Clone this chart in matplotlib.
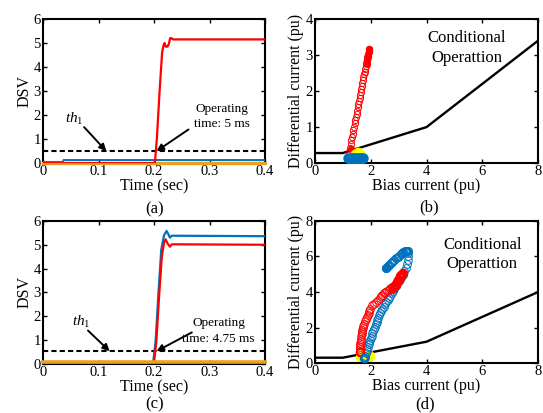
import numpy as np
import matplotlib
matplotlib.use("Agg")
import matplotlib.pyplot as plt

plt.rcParams['font.family'] = ['Liberation Serif', 'DejaVu Serif']
plt.rcParams['mathtext.fontset'] = 'custom'
plt.rcParams['mathtext.rm'] = 'Liberation Serif'
plt.rcParams['mathtext.it'] = 'Liberation Serif:italic'

RED = '#FF0000'
BLUE = '#0072BD'
ORANGE = '#EDA020'
YELLOW = '#FFFF00'

# ---- (a) DSV, case 1
a_red_t = [0, 0.2015, 0.205, 0.21, 0.2145, 0.217, 0.219, 0.221, 0.224, 0.2265, 0.229, 0.2315, 0.234, 0.4]
a_red_v = [0, 0, 1.0, 3.0, 4.6, 4.9, 5.0, 4.85, 4.85, 4.95, 5.2, 5.2, 5.15, 5.15]
a_blue_t = [0, 0.036, 0.037, 0.4]
a_blue_v = [0.05, 0.05, 0.13, 0.13]
a_orange_t = [0, 0.4]
a_orange_v = [0.02, 0.02]
a_th1 = 0.5

# ---- (c) DSV, case 2
c_blue_t = [0, 0.1985, 0.203, 0.208, 0.213, 0.218, 0.2226, 0.2256, 0.2286, 0.232, 0.236, 0.4]
c_blue_v = [0.07, 0.07, 1.0, 3.0, 4.8, 5.4, 5.58, 5.45, 5.3, 5.38, 5.38, 5.36]
c_red_t = [0, 0.2, 0.204, 0.209, 0.214, 0.218, 0.2208, 0.2245, 0.2286, 0.232, 0.236, 0.4]
c_red_v = [0.07, 0.07, 0.9, 2.8, 4.5, 5.1, 5.23, 5.05, 4.92, 5.02, 5.02, 5.0]
c_orange_t = [0, 0.4]
c_orange_v = [0.07, 0.07]
c_th1 = 0.53

# ---- (b) trajectory, case 1
b_char_x = [0, 1, 4, 8]
b_char_y = [0.28, 0.28, 1.0, 3.4]
b_red_x = [1.22, 1.25, 1.28, 1.30, 1.33, 1.35, 1.38, 1.40, 1.42, 1.45, 1.47, 1.49, 1.52, 1.54,
           1.56, 1.58, 1.60, 1.62, 1.64, 1.66, 1.68, 1.70, 1.72, 1.74, 1.76, 1.78, 1.80, 1.82,
           1.84, 1.86, 1.88, 1.90, 1.92, 1.94]
b_red_y = [0.30, 0.42, 0.53, 0.63, 0.73, 0.82, 0.92, 1.01, 1.10, 1.19, 1.28, 1.37, 1.46, 1.55,
           1.64, 1.72, 1.81, 1.89, 1.98, 2.06, 2.14, 2.22, 2.30, 2.38, 2.46, 2.54, 2.62, 2.70,
           2.78, 2.86, 2.94, 3.02, 3.10, 3.18]
b_redf_x = [1.28, 1.87, 1.88, 1.90, 1.93, 1.95]
b_redf_y = [0.38, 2.75, 2.85, 2.95, 3.08, 3.18]
b_yel_x = [1.42, 1.50, 1.58, 1.66, 1.55]
b_yel_y = [0.24, 0.27, 0.26, 0.22, 0.30]
b_blue_x = [1.20, 1.26, 1.32, 1.38, 1.44, 1.50, 1.56, 1.62, 1.68, 1.74, 1.30, 1.45, 1.60]
b_blue_y = [0.15, 0.14, 0.15, 0.13, 0.15, 0.14, 0.15, 0.13, 0.15, 0.14, 0.10, 0.11, 0.10]

# ---- (d) trajectory, case 2
d_char_x = [0, 1, 4, 8]
d_char_y = [0.30, 0.30, 1.2, 4.0]
d_blue_x = [1.78, 1.80, 1.83, 1.85, 1.87, 1.90, 1.92, 1.95, 1.97, 2.00, 2.03, 2.06, 2.09, 2.12,
            2.15, 2.18, 2.21, 2.24, 2.27, 2.30, 2.33, 2.37, 2.42, 2.46, 2.51, 2.56, 2.61, 2.66,
            2.70, 2.75, 2.79, 2.84, 2.89, 2.95, 3.01, 3.07, 3.14, 3.20, 3.25, 3.29, 3.32, 3.34,
            3.35]
d_blue_y = [0.30, 0.42, 0.55, 0.68, 0.80, 0.92, 1.05, 1.18, 1.30, 1.42, 1.55, 1.68, 1.80, 1.92,
            2.05, 2.18, 2.30, 2.42, 2.55, 2.68, 2.80, 2.92, 3.05, 3.17, 3.30, 3.42, 3.55, 3.68,
            3.80, 3.92, 4.05, 4.18, 4.32, 4.48, 4.64, 4.80, 4.98, 5.16, 5.36, 5.56, 5.78, 6.00,
            6.20]
d_bluec_x = [3.34, 3.30, 3.26, 3.22, 3.17, 3.12, 3.07, 3.02, 2.96, 2.90, 2.84, 2.78, 2.72, 2.66,
             2.61, 2.56]
d_bluec_y = [6.30, 6.32, 6.32, 6.30, 6.25, 6.19, 6.12, 6.05, 5.97, 5.89, 5.80, 5.71, 5.62, 5.53,
             5.45, 5.37]
d_red_x = [1.60, 1.60, 1.61, 1.62, 1.63, 1.64, 1.65, 1.66, 1.67, 1.68, 1.70, 1.72, 1.74, 1.77,
           1.80, 1.83, 1.86, 1.89, 1.92, 1.95, 1.99, 2.05, 2.12, 2.20, 2.27, 2.33, 2.38, 2.42,
           2.46, 2.52, 2.58, 2.64, 2.70, 2.75]
d_red_y = [0.65, 0.78, 0.90, 1.02, 1.14, 1.26, 1.38, 1.50, 1.62, 1.74, 1.86, 1.98, 2.10, 2.22,
           2.34, 2.46, 2.58, 2.70, 2.82, 2.94, 3.05, 3.25, 3.35, 3.45, 3.55, 3.65, 3.75, 3.85,
           3.93, 4.00, 4.07, 4.14, 4.20, 4.26]
d_redf_x = [2.80, 2.85, 2.90, 2.95, 3.00, 3.05, 3.10, 3.14, 3.12, 3.06, 2.98, 2.90, 2.83, 1.60]
d_redf_y = [4.22, 4.32, 4.42, 4.55, 4.70, 4.85, 4.98, 5.05, 5.00, 4.88, 4.68, 4.46, 4.28, 0.62]
d_yel_x = [1.65, 1.72, 1.80, 1.88, 1.95, 1.70, 1.85]
d_yel_y = [0.35, 0.22, 0.18, 0.28, 0.38, 0.48, 0.50]

fig = plt.figure(figsize=(5.43, 4.13), dpi=100)
axa = fig.add_axes([0.0792, 0.605, 0.409, 0.349])
axb = fig.add_axes([0.580, 0.605, 0.411, 0.349])
axc = fig.add_axes([0.0792, 0.119, 0.409, 0.346])
axd = fig.add_axes([0.580, 0.121, 0.411, 0.344])

FS = 10.5
for ax in (axa, axb, axc, axd):
    ax.tick_params(direction='in', top=True, right=True, labelsize=FS, width=1.0, length=3, pad=1.5)
    for s in ax.spines.values():
        s.set_linewidth(1.5)

arr = dict(arrowstyle='-|>', color='k', lw=1.4, mutation_scale=10, shrinkA=0, shrinkB=0)


def dsv_panel(ax, th, th_xy, th_tip, op_text, op_xy, op_tail, op_tip):
    ax.axhline(th, color='k', ls=(0, (2.5, 1.5)), lw=1.5, zorder=1)
    ax.set_xlim(0, 0.4)
    ax.set_ylim(0, 6)
    ax.set_xticks([0, 0.1, 0.2, 0.3, 0.4])
    ax.set_xticklabels(['0', '0.1', '0.2', '0.3', '0.4'])
    ax.set_yticks(range(7))
    ax.set_xlabel('Time (sec)', fontsize=11.5, labelpad=0)
    ax.set_ylabel('DSV', fontsize=11.5, labelpad=1)
    ax.text(th_xy[0], th_xy[1], r'$th_1$', fontsize=11, ha='center', va='center')
    ax.annotate('', xy=(th_tip[0], th), xytext=th_tip[1], arrowprops=arr)
    ax.text(op_xy[0], op_xy[1], op_text, fontsize=9.5, ha='center', va='center',
            linespacing=1.35)
    ax.annotate('', xy=(op_tip, th), xytext=op_tail, arrowprops=arr)


# (a)
axa.plot(a_blue_t, a_blue_v, color=BLUE, lw=1.4, zorder=3)
axa.plot(a_orange_t, a_orange_v, color=ORANGE, lw=2.4, zorder=4, clip_on=False)
axa.plot(a_red_t, a_red_v, color=RED, lw=1.6, zorder=5)
dsv_panel(axa, a_th1, (0.057, 1.85), (0.114, (0.074, 1.5)),
          'Operating\ntime: 5 ms', (0.322, 1.95), (0.262, 1.4), 0.2045)

# (c)
axc.plot(c_blue_t, c_blue_v, color=BLUE, lw=1.6, zorder=3)
axc.plot(c_red_t, c_red_v, color=RED, lw=1.6, zorder=4)
axc.plot(c_orange_t, c_orange_v, color=ORANGE, lw=2.6, zorder=5, clip_on=False)
dsv_panel(axc, c_th1, (0.069, 1.74), (0.12, (0.081, 1.4)),
          'Operating\ntime: 4.75 ms', (0.316, 1.38), (0.268, 1.32), 0.2045)


def traj_panel(ax, ymax, yticks, cx, cy, txt_xy):
    ax.plot(cx, cy, color='k', lw=1.7, zorder=1)
    ax.set_xlim(0, 8)
    ax.set_ylim(0, ymax)
    ax.set_xticks([0, 2, 4, 6, 8])
    ax.set_yticks(yticks)
    ax.set_xlabel('Bias current (pu)', fontsize=11.5, labelpad=0)
    ax.set_ylabel('Differential current (pu)', fontsize=11.5, labelpad=1)
    ax.text(txt_xy[0], txt_xy[1], 'Conditional\nOperattion', fontsize=12, ha='center',
            va='center', linespacing=1.3)


# (b)
traj_panel(axb, 4, [0, 1, 2, 3, 4], b_char_x, b_char_y, (5.45, 3.2))
axb.plot(b_red_x, b_red_y, 'o', ms=4.5, mfc='none', mec=RED, mew=0.7, zorder=3)
axb.plot(b_redf_x, b_redf_y, 'o', ms=4.5, mfc=RED, mec=RED, mew=0.7, zorder=3)
axb.plot(b_yel_x, b_yel_y, 'o', ms=6, mfc=YELLOW, mec=YELLOW, zorder=4)
axb.plot(b_blue_x, b_blue_y, 'o', ms=6.5, mfc=BLUE, mec=BLUE, zorder=5)

# (d)
traj_panel(axd, 8, [0, 2, 4, 6, 8], d_char_x, d_char_y, (6.0, 6.1))
axd.plot(d_yel_x, d_yel_y, 'o', ms=6, mfc='none', mec=YELLOW, mew=2.2, zorder=2)
axd.plot(d_red_x, d_red_y, 'o', ms=5.5, mfc='none', mec=RED, mew=0.7, zorder=4)
axd.plot(d_redf_x, d_redf_y, 'o', ms=5.5, mfc='none', mec=RED, mew=1.4, zorder=4)
axd.plot(d_blue_x, d_blue_y, 'o', ms=5.5, mfc='none', mec=BLUE, mew=0.7, zorder=3)
axd.plot(d_bluec_x, d_bluec_y, 'o', ms=5.5, mfc='none', mec=BLUE, mew=1.0, zorder=3)
axd.plot([2.55], [5.36], 'o', ms=5.5, mfc=BLUE, mec=BLUE, zorder=3)
axd.plot([1.76], [0.30], 'o', ms=5, mfc='none', mec=BLUE, mew=1.8, zorder=5)

# panel captions
fig.text(0.285, 0.493, '(a)', fontsize=12, ha='center', va='center')
fig.text(0.790, 0.497, '(b)', fontsize=12, ha='center', va='center')
fig.text(0.285, 0.022, '(c)', fontsize=12, ha='center', va='center')
fig.text(0.782, 0.020, '(d)', fontsize=12, ha='center', va='center')

fig.savefig('out.png', dpi=100)
